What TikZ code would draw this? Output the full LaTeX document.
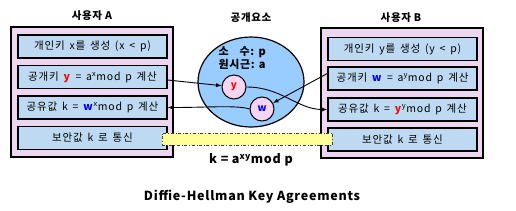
\documentclass[tikz,border=0pt]{standalone}
\usepackage{fontspec}
\setmainfont{Noto Sans CJK KR}
\newfontfamily\boxfont{Noto Sans CJK KR}[LetterSpace=8,WordSpace=1.5]
\newfontfamily\widefont{Noto Sans CJK KR}[LetterSpace=6]
\usepackage{tikz}
\usetikzlibrary{shapes,arrows,positioning,calc}

\definecolor{framepink}{RGB}{236,214,240}
\definecolor{boxblue}{RGB}{190,218,242}
\definecolor{poolblue}{RGB}{153,204,255}
\definecolor{keypink}{RGB}{245,214,240}
\definecolor{bandyellow}{RGB}{255,255,153}

\begin{document}
\begin{tikzpicture}[x=1pt,y=-1pt,
    userframe/.style={draw=black,line width=1.6pt,fill=framepink,minimum width=162pt,minimum height=130pt},
    stepbox/.style={draw=black,line width=1.4pt,fill=boxblue,minimum width=149pt,minimum height=23pt,inner sep=0pt,font=\boxfont\fontsize{10.5}{11}\selectfont},
    keyball/.style={circle,draw=black,line width=1pt,fill=keypink,minimum size=24pt,inner sep=0pt,font=\bfseries\fontsize{10}{11}\selectfont},
    heading/.style={font=\widefont\bfseries\fontsize{10.5}{12}\selectfont},
    link/.style={->,>=latex,line width=0.9pt}]
    \useasboundingbox (0,0) rectangle (516,210);

    \node[heading] (titleA) at (92,16) {사용자 A};
    \node[heading] (titlePool) at (251,18) {공개요소};
    \node[heading] (titleB) at (401,18) {사용자 B};

    \node[userframe] (userA) at (92,92) {};
    \node[userframe] (userB) at (402,93) {};

    \node[stepbox] (a1) at (92.5,46.5) {개인키 x를 생성 (x < p)};
    \node[stepbox] (a2) at (92.5,77) {공개키 \textcolor{red}{\textbf{y}} = a\textsuperscript{x}mod p 계산};
    \node[stepbox] (a3) at (92.5,107.5) {공유값 k = \textcolor{blue}{\textbf{w}}\textsuperscript{x}mod p 계산};
    \node[stepbox] (a4) at (92.5,138) {보안값 k 로 통신};

    \node[stepbox] (b1) at (402.5,49) {개인키 y를 생성 (y < p)};
    \node[stepbox] (b2) at (402.5,78.5) {공개키 \textcolor{blue}{\textbf{w}} = a\textsuperscript{y}mod p 계산};
    \node[stepbox] (b3) at (402.5,109.5) {공유값 k = \textcolor{red}{\textbf{y}}\textsuperscript{y}mod p 계산};
    \node[stepbox] (b4) at (402.5,139.5) {보안값 k 로 통신};

    \node[ellipse,draw=black,line width=1.2pt,fill=poolblue,minimum width=106pt,minimum height=90pt] (pool) at (251,82) {};
    \node[anchor=west,align=left,font=\widefont\bfseries\fontsize{11}{13}\selectfont] (params) at (215,58.5) {소\hspace{1em}수: p\\원시근: a};
    \node[keyball,text=red] (y) at (234,87) {y};
    \node[keyball,text=blue] (w) at (262,109) {w};

    \draw[link] ([yshift=-3pt]a2.east) -- (y);
    \draw[link] (y.east) .. controls +(35,0) and +(-30,0) .. (b3.west);
    \draw[link] ([yshift=5pt]b2.west) -- (w);
    \draw[link] (w.west) .. controls +(-12,-4) and +(40,0) .. (a3.east);

    \node[draw=darkgray,dash dot,fill=bandyellow,minimum width=170pt,minimum height=12pt,inner sep=0pt] (band) at (247,139) {};

    \node[font=\widefont\bfseries\fontsize{12.5}{14}\selectfont] (shared) at (251,160) {k = a\textsuperscript{xy}mod p};
    \node[font=\widefont\bfseries\fontsize{12.5}{14}\selectfont] (caption) at (252,197) {Diffie-Hellman Key Agreements};
\end{tikzpicture}
\end{document}
